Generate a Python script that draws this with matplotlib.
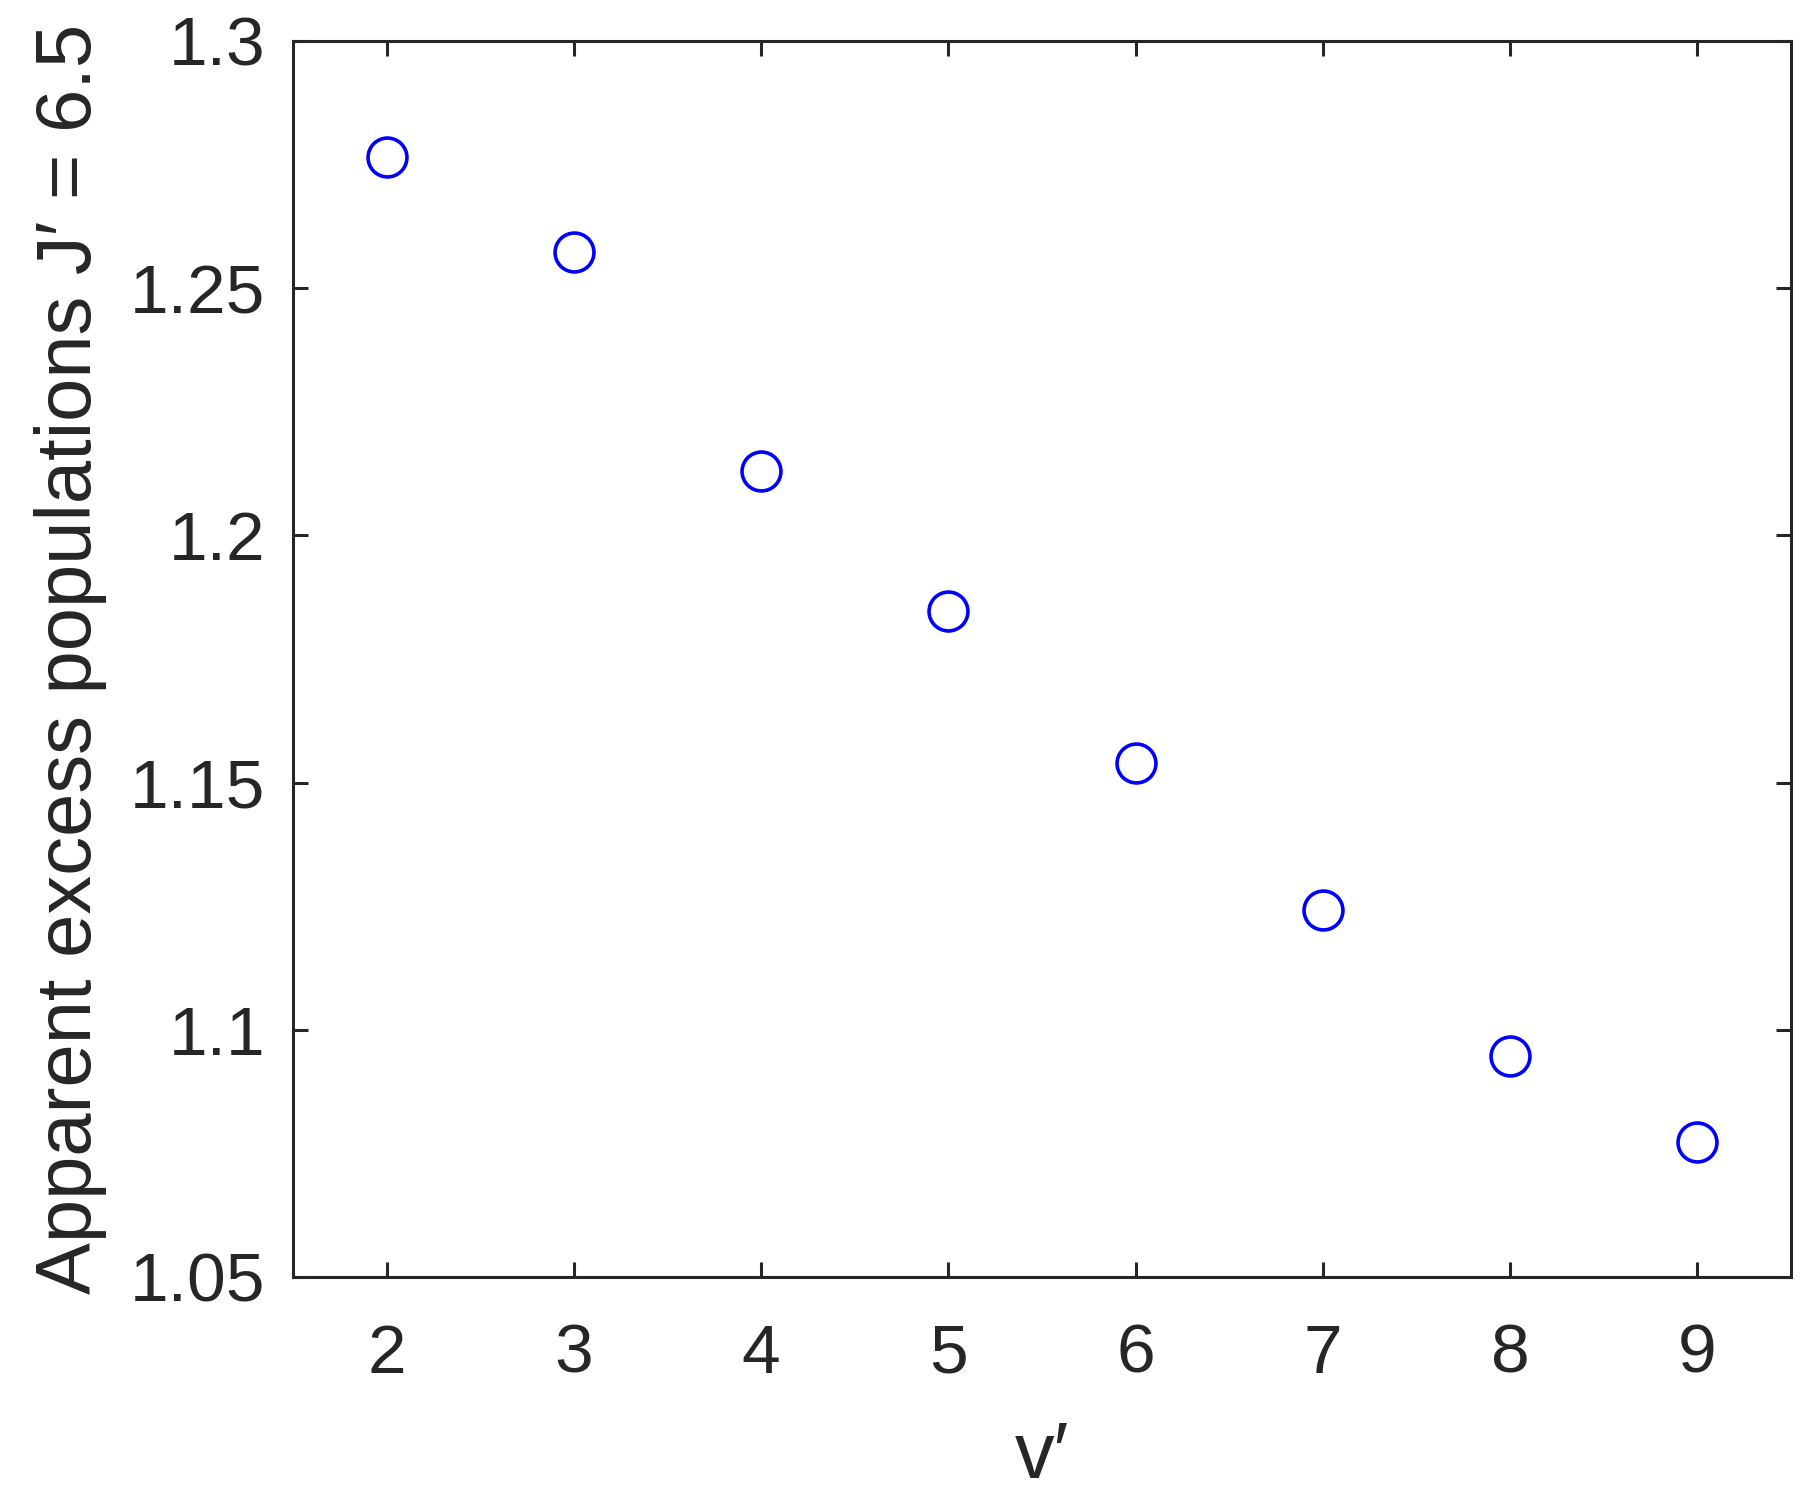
import matplotlib
matplotlib.use("Agg")
from matplotlib import pyplot as plt

plt.rcParams['font.family'] = ['Liberation Sans', 'DejaVu Sans']

# valori
v_livelli = [2, 3, 4, 5, 6, 7, 8, 9]
popolazioni = [1.2766, 1.2573, 1.2130, 1.1847, 1.1539, 1.1242, 1.0948, 1.0774]
y_ticks = [1.05, 1.1, 1.15, 1.2, 1.25, 1.3]
y_labels = ["1.05", "1.1", "1.15", "1.2", "1.25", "1.3"]

grigio = "#262626"

fig = plt.figure(figsize=(18.11, 14.99), dpi=100)
ax = fig.add_axes([293 / 1811, 1 - 1277 / 1499, (1791 - 293) / 1811, (1277 - 41) / 1499])

ax.plot(v_livelli, popolazioni, linestyle="none", marker="o", markersize=28,
        markerfacecolor="none", markeredgecolor="#0000ff", markeredgewidth=2.6)

ax.set_xlim(1.5, 9.5)
ax.set_ylim(1.05, 1.3)
ax.set_xticks(v_livelli)
ax.set_yticks(y_ticks)
ax.set_yticklabels(y_labels)

for s in ax.spines.values():
    s.set_linewidth(2.2)
    s.set_color(grigio)

ax.tick_params(axis="both", direction="in", length=11, width=2.2, color=grigio,
               labelsize=50, labelcolor=grigio, top=True, right=True)
ax.tick_params(axis="x", pad=33)
ax.tick_params(axis="y", pad=20)

ax.set_xlabel("v\u2032", fontsize=57, color=grigio, labelpad=24)
ax.set_ylabel("Apparent excess populations J\u2032 = 6.5", fontsize=56, color=grigio, labelpad=16)

fig.savefig("out.png", dpi=100)
